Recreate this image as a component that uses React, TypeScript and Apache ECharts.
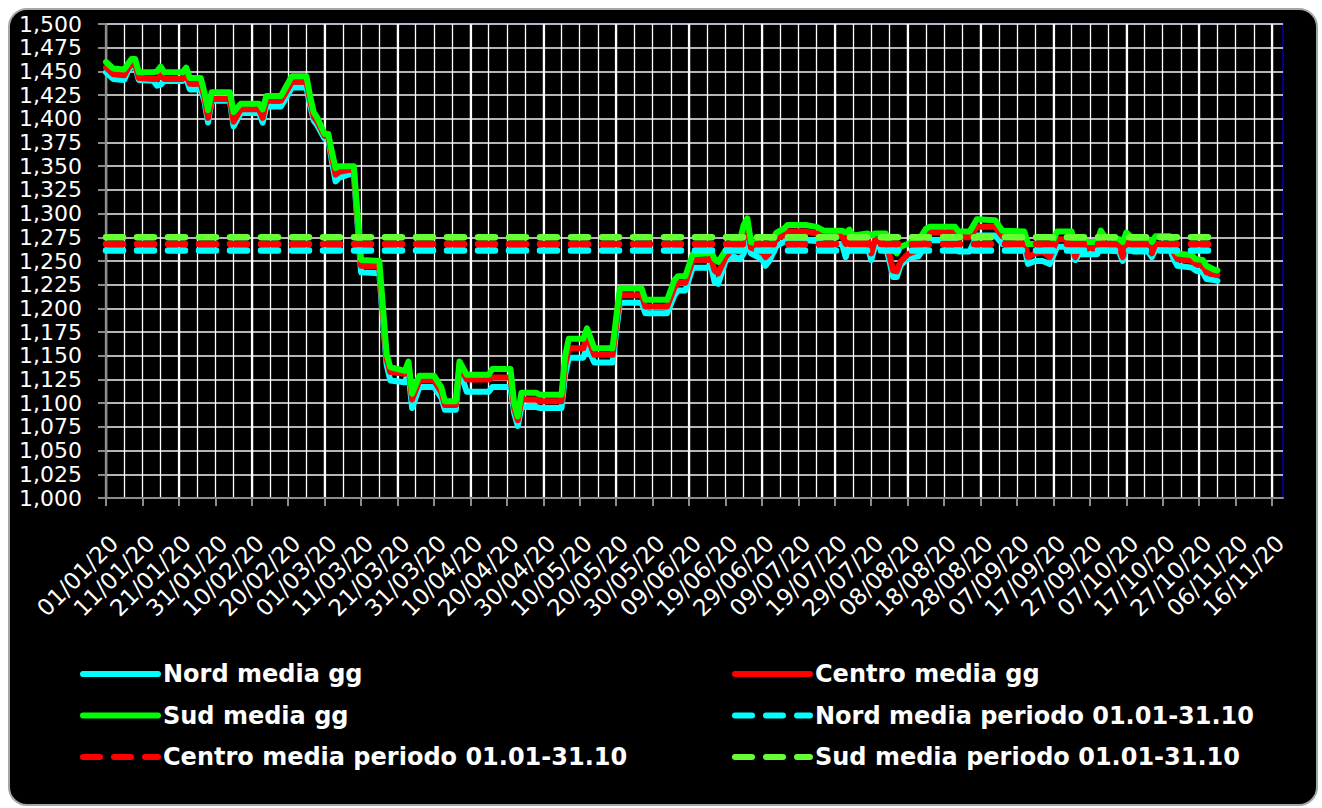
import React, { useEffect, useRef } from "react";
import * as echarts from "echarts";

// ---- axis categories: every day from 01/01/20 to 19/11/20 ----
const AXIS_START_UTC = Date.UTC(2020, 0, 1);
const AXIS_DAY_COUNT = 324;
const pad2 = (n: number) => (n < 10 ? "0" + n : String(n));
const categories: string[] = Array.from({ length: AXIS_DAY_COUNT }, (_, i) => {
  const dt = new Date(AXIS_START_UTC + i * 86400000);
  return `${pad2(dt.getUTCDate())}/${pad2(dt.getUTCMonth() + 1)}/${String(dt.getUTCFullYear()).slice(2)}`;
});

// ---- daily values (at the dates where the lines change) ----
const keyDates = [
  "01/01/20", "03/01/20", "06/01/20", "07/01/20", "08/01/20", "09/01/20", "10/01/20", "14/01/20", "15/01/20", "16/01/20",
  "17/01/20", "22/01/20", "23/01/20", "24/01/20", "27/01/20", "28/01/20", "29/01/20", "30/01/20", "04/02/20", "05/02/20",
  "07/02/20", "12/02/20", "13/02/20", "14/02/20", "18/02/20", "20/02/20", "21/02/20", "25/02/20", "26/02/20", "27/02/20",
  "28/02/20", "01/03/20", "02/03/20", "03/03/20", "04/03/20", "05/03/20", "09/03/20", "11/03/20", "16/03/20", "18/03/20",
  "19/03/20", "23/03/20", "24/03/20", "25/03/20", "27/03/20", "31/03/20", "02/04/20", "03/04/20", "06/04/20", "07/04/20",
  "09/04/20", "15/04/20", "16/04/20", "21/04/20", "22/04/20", "23/04/20", "24/04/20", "28/04/20", "29/04/20", "05/05/20",
  "06/05/20", "07/05/20", "11/05/20", "12/05/20", "14/05/20", "19/05/20", "21/05/20", "27/05/20", "28/05/20", "03/06/20",
  "05/06/20", "06/06/20", "08/06/20", "10/06/20", "14/06/20", "15/06/20", "16/06/20", "17/06/20", "19/06/20", "21/06/20",
  "23/06/20", "24/06/20", "25/06/20", "26/06/20", "29/06/20", "30/06/20", "01/07/20", "03/07/20", "05/07/20", "06/07/20",
  "11/07/20", "14/07/20", "16/07/20", "21/07/20", "22/07/20", "23/07/20", "24/07/20", "28/07/20", "29/07/20", "30/07/20",
  "02/08/20", "03/08/20", "04/08/20", "05/08/20", "06/08/20", "08/08/20", "11/08/20", "13/08/20", "14/08/20", "21/08/20",
  "22/08/20", "25/08/20", "27/08/20", "01/09/20", "03/09/20", "09/09/20", "10/09/20", "12/09/20", "14/09/20", "16/09/20",
  "18/09/20", "22/09/20", "23/09/20", "24/09/20", "29/09/20", "30/09/20", "01/10/20", "05/10/20", "06/10/20", "07/10/20",
  "09/10/20", "13/10/20", "14/10/20", "15/10/20", "19/10/20", "20/10/20", "21/10/20", "25/10/20", "26/10/20", "28/10/20",
  "29/10/20", "31/10/20", "01/11/20",
];

const nordDaily = [
  1.449, 1.442, 1.441, 1.450, 1.455, 1.455, 1.441, 1.440, 1.435, 1.436,
  1.440, 1.440, 1.443, 1.431, 1.431, 1.419, 1.396, 1.419, 1.419, 1.392,
  1.406, 1.406, 1.396, 1.413, 1.413, 1.426, 1.433, 1.433, 1.415, 1.398,
  1.393, 1.379, 1.379, 1.355, 1.334, 1.338, 1.343, 1.238, 1.237, 1.141,
  1.124, 1.122, 1.132, 1.095, 1.117, 1.117, 1.106, 1.093, 1.093, 1.136,
  1.112, 1.112, 1.117, 1.117, 1.090, 1.076, 1.096, 1.096, 1.095, 1.095,
  1.130, 1.148, 1.148, 1.160, 1.143, 1.143, 1.206, 1.206, 1.195, 1.195,
  1.214, 1.219, 1.219, 1.243, 1.243, 1.246, 1.228, 1.226, 1.250, 1.255,
  1.252, 1.258, 1.272, 1.258, 1.252, 1.245, 1.250, 1.266, 1.270, 1.272,
  1.272, 1.271, 1.268, 1.268, 1.254, 1.267, 1.264, 1.265, 1.251, 1.265,
  1.265, 1.250, 1.233, 1.233, 1.245, 1.253, 1.255, 1.268, 1.272, 1.272,
  1.260, 1.260, 1.277, 1.277, 1.268, 1.266, 1.247, 1.250, 1.250, 1.247,
  1.265, 1.265, 1.251, 1.257, 1.257, 1.266, 1.262, 1.260, 1.250, 1.264,
  1.260, 1.260, 1.254, 1.262, 1.262, 1.252, 1.245, 1.243, 1.240, 1.238,
  1.231, 1.230, 1.229,
];

const centroDaily = [
  1.454, 1.447, 1.446, 1.453, 1.458, 1.458, 1.443, 1.442, 1.442, 1.446,
  1.442, 1.442, 1.447, 1.437, 1.437, 1.423, 1.401, 1.421, 1.421, 1.397,
  1.410, 1.410, 1.401, 1.419, 1.419, 1.432, 1.439, 1.439, 1.420, 1.402,
  1.397, 1.382, 1.382, 1.360, 1.341, 1.344, 1.347, 1.245, 1.244, 1.147,
  1.133, 1.131, 1.140, 1.104, 1.124, 1.124, 1.112, 1.098, 1.098, 1.140,
  1.125, 1.125, 1.127, 1.127, 1.095, 1.082, 1.104, 1.104, 1.102, 1.102,
  1.140, 1.158, 1.158, 1.172, 1.151, 1.151, 1.214, 1.214, 1.202, 1.202,
  1.222, 1.227, 1.227, 1.251, 1.251, 1.254, 1.240, 1.237, 1.254, 1.263,
  1.260, 1.275, 1.284, 1.264, 1.260, 1.254, 1.258, 1.274, 1.277, 1.281,
  1.281, 1.279, 1.276, 1.276, 1.268, 1.276, 1.271, 1.272, 1.258, 1.272,
  1.272, 1.256, 1.240, 1.239, 1.249, 1.257, 1.262, 1.277, 1.280, 1.280,
  1.275, 1.275, 1.286, 1.286, 1.276, 1.274, 1.254, 1.258, 1.260, 1.254,
  1.273, 1.273, 1.254, 1.264, 1.264, 1.273, 1.268, 1.266, 1.254, 1.271,
  1.266, 1.266, 1.258, 1.268, 1.268, 1.259, 1.252, 1.250, 1.247, 1.245,
  1.238, 1.236, 1.235,
];

const sudDaily = [
  1.460, 1.453, 1.452, 1.458, 1.463, 1.463, 1.449, 1.449, 1.450, 1.455,
  1.449, 1.449, 1.454, 1.443, 1.443, 1.428, 1.409, 1.428, 1.428, 1.407,
  1.416, 1.416, 1.410, 1.424, 1.424, 1.438, 1.445, 1.445, 1.424, 1.407,
  1.401, 1.384, 1.384, 1.365, 1.348, 1.350, 1.350, 1.251, 1.250, 1.152,
  1.138, 1.134, 1.144, 1.110, 1.129, 1.129, 1.117, 1.102, 1.102, 1.144,
  1.130, 1.130, 1.136, 1.136, 1.100, 1.086, 1.111, 1.111, 1.109, 1.109,
  1.150, 1.168, 1.168, 1.179, 1.158, 1.158, 1.221, 1.221, 1.209, 1.209,
  1.230, 1.234, 1.234, 1.257, 1.258, 1.261, 1.252, 1.249, 1.261, 1.270,
  1.272, 1.288, 1.295, 1.270, 1.268, 1.264, 1.266, 1.280, 1.284, 1.288,
  1.288, 1.286, 1.282, 1.282, 1.280, 1.283, 1.277, 1.279, 1.277, 1.279,
  1.279, 1.268, 1.262, 1.258, 1.265, 1.268, 1.272, 1.284, 1.286, 1.286,
  1.281, 1.281, 1.294, 1.293, 1.282, 1.281, 1.268, 1.268, 1.268, 1.263,
  1.281, 1.281, 1.261, 1.270, 1.270, 1.282, 1.276, 1.273, 1.270, 1.280,
  1.273, 1.273, 1.270, 1.276, 1.276, 1.267, 1.258, 1.256, 1.252, 1.251,
  1.245, 1.241, 1.240,
];

// ---- period averages 01.01-31.10 ----
const periodDates = ["01/01/20", "01/11/20"];
const nordPeriodMean = 1.261;
const centroPeriodMean = 1.268;
const sudPeriodMean = 1.275;

const seriesNames = [
  "Nord media gg",
  "Centro media gg",
  "Sud media gg",
  "Nord media periodo 01.01-31.10",
  "Centro media periodo 01.01-31.10",
  "Sud media periodo 01.01-31.10",
];
const seriesColors = ["#00ffff", "#ff0000", "#00ff00", "#00ffff", "#ff0000", "#66ff33"];

const FONT = "DejaVu Sans";

export default function App() {
  const ref = useRef<HTMLDivElement>(null);

  useEffect(() => {
    if (!ref.current) return;
    const chart = echarts.init(ref.current, null, { renderer: "svg" });

    const dailyLine = (name: string, color: string, values: number[]) => ({
      name,
      type: "line",
      symbol: "none",
      data: keyDates.map((d, i) => [d, values[i]]),
      lineStyle: { color, width: 6, cap: "round", join: "round" },
      itemStyle: { color },
      emphasis: { disabled: true },
      silent: true,
    });
    const periodLine = (name: string, color: string, mean: number) => ({
      name,
      type: "line",
      symbol: "none",
      data: periodDates.map((d) => [d, mean]),
      lineStyle: { color, width: 6.5, type: [17, 14], cap: "round" },
      itemStyle: { color },
      emphasis: { disabled: true },
      silent: true,
    });

    const legendText = {
      color: "#ffffff",
      fontSize: 24,
      fontWeight: "bold",
      fontFamily: FONT,
      lineHeight: 24,
    };
    const legendBase = {
      orient: "vertical",
      top: 662,
      itemWidth: 75,
      itemHeight: 24,
      itemGap: 17.5,
      padding: 0,
      selectedMode: false,
      textStyle: legendText,
      itemStyle: { opacity: 0 },
      lineStyle: { width: 6, cap: "round", type: "inherit", color: "inherit" },
    };

    chart.setOption({
      animation: false,
      backgroundColor: "#ffffff",
      graphic: [
        {
          type: "rect",
          z: -10,
          silent: true,
          shape: { x: 9, y: 9, width: 1308, height: 796, r: 18 },
          style: { fill: "#000000", stroke: "#a6a6a6", lineWidth: 2 },
        },
      ],
      grid: {
        left: 106,
        right: 39,
        top: 24,
        bottom: 310,
        show: true,
        borderColor: "#0000b4",
        borderWidth: 1.5,
        backgroundColor: "transparent",
      },
      xAxis: [
        {
          type: "category",
          data: categories,
          boundaryGap: false,
          axisLine: { show: true, lineStyle: { color: "#8c8c8c", width: 2 } },
          axisTick: { show: true, interval: 9, length: 8, lineStyle: { color: "#8c8c8c", width: 2 } },
          axisLabel: {
            interval: 9,
            rotate: 45,
            color: "#ffffff",
            fontSize: 23,
            fontFamily: FONT,
            margin: 33,
            verticalAlign: "top",
          },
          splitLine: { show: true, interval: 4, lineStyle: { color: "#ffffff", width: 1.3 } },
        },
        {
          type: "category",
          data: categories,
          boundaryGap: false,
          position: "top",
          axisLine: { show: false },
          axisTick: { show: false },
          axisLabel: { show: false },
          splitLine: { show: true, interval: 19, lineStyle: { color: "#ffffff", width: 2.2 } },
        },
      ],
      yAxis: {
        type: "value",
        min: 1.0,
        max: 1.5,
        interval: 0.025,
        axisLine: { show: true, lineStyle: { color: "#8c8c8c", width: 2 } },
        axisTick: { show: true, length: 8, lineStyle: { color: "#8c8c8c", width: 2 } },
        axisLabel: {
          color: "#ffffff",
          fontSize: 22,
          fontFamily: FONT,
          margin: 24,
          formatter: (v: number) => v.toFixed(3).replace(".", ","),
        },
        splitLine: { show: true, lineStyle: { color: "#f2f2f2", width: 1.6 } },
      },
      legend: [
        { ...legendBase, left: 80, data: [seriesNames[0], seriesNames[2], seriesNames[4]] },
        { ...legendBase, left: 732, data: [seriesNames[1], seriesNames[3], seriesNames[5]] },
      ],
      series: [
        dailyLine(seriesNames[0], seriesColors[0], nordDaily),
        dailyLine(seriesNames[1], seriesColors[1], centroDaily),
        dailyLine(seriesNames[2], seriesColors[2], sudDaily),
        periodLine(seriesNames[3], seriesColors[3], nordPeriodMean),
        periodLine(seriesNames[4], seriesColors[4], centroPeriodMean),
        periodLine(seriesNames[5], seriesColors[5], sudPeriodMean),
      ],
    });

    return () => chart.dispose();
  }, []);

  return (
    <div
      ref={ref}
      style={{ position: "fixed", left: 0, top: 0, width: 1322, height: 808 }}
    />
  );
}
